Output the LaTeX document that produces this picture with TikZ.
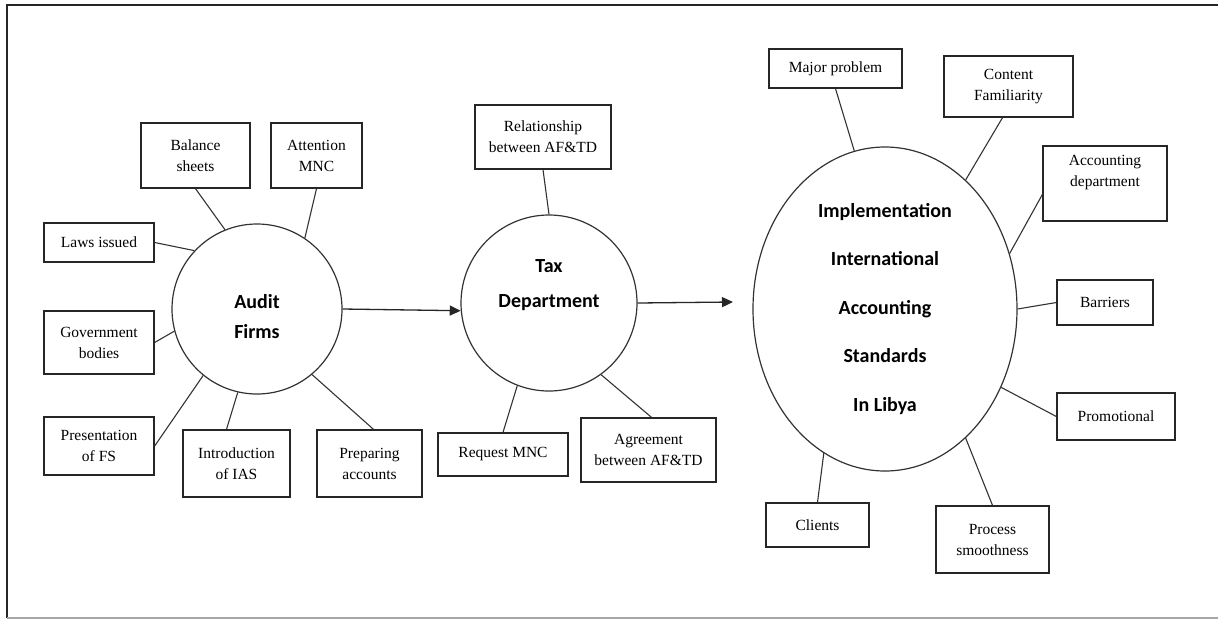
\documentclass[tikz,border=0pt]{standalone}
\usepackage{fontspec}
\setmainfont{Liberation Serif}
\newfontfamily\calibri{Carlito}
\usetikzlibrary{shapes.geometric,arrows.meta}

\begin{document}
\begin{tikzpicture}[x=1pt,y=-1pt,
    topic/.style={draw=black!85,line width=1.3pt,rectangle,align=center,inner sep=1pt,font=\fontsize{15.5}{21}\selectfont},
    hub/.style={draw=black!80,line width=1.2pt,align=center,inner sep=0pt,font=\calibri\bfseries\fontsize{20}{30}\selectfont},
    link/.style={draw=black!80,line width=1.1pt},
    flow/.style={draw=black!85,line width=1.3pt,-{Triangle[length=11pt,width=10pt]}}]
    \useasboundingbox (0,0) rectangle (1218,619);
    \draw[line width=2pt,black!85] (1218,5) -- (7,5) -- (7,618);
    \draw[line width=1.5pt,black!35] (7,618) -- (1218,618);

    \node[hub,circle,minimum size=170pt,text height=60pt] (af) at (257,309) {Audit\\Firms};
    \node[hub,circle,minimum size=176pt,font=\calibri\bfseries\fontsize{20}{35}\selectfont,text depth=39pt] (td) at (549,303) {Tax\\Department};
    \node[hub,ellipse,minimum width=264pt,minimum height=324pt,font=\calibri\bfseries\fontsize{20}{48.5}\selectfont] (ias) at (885,309) {Implementation\\International\\Accounting\\Standards\\In Libya};

    \node[topic,minimum width=109pt,minimum height=65pt] (bal) at (195.5,155.5) {Balance\\sheets};
    \node[topic,minimum width=91pt,minimum height=65pt] (att) at (316.5,155.5) {Attention\\MNC};
    \node[topic,minimum width=110pt,minimum height=39pt] (laws) at (99,242.5) {Laws issued};
    \node[topic,minimum width=110pt,minimum height=63pt] (gov) at (99,342.5) {Government\\bodies};
    \node[topic,minimum width=110pt,minimum height=58pt] (pres) at (99,446) {Presentation\\of FS};
    \node[topic,minimum width=107pt,minimum height=67pt] (intro) at (236.5,463.5) {Introduction\\of IAS};
    \node[topic,minimum width=105pt,minimum height=67pt] (prep) at (369.5,463.5) {Preparing\\accounts};

    \node[topic,minimum width=136pt,minimum height=64pt] (rel) at (543,137) {Relationship\\between AF\&TD};
    \node[topic,minimum width=130pt,minimum height=43pt] (req) at (503,454.5) {Request MNC};
    \node[topic,minimum width=135pt,minimum height=64pt] (agr) at (648.5,450) {Agreement\\between AF\&TD};

    \node[topic,minimum width=133pt,minimum height=39pt] (major) at (835.5,68.5) {Major problem};
    \node[topic,minimum width=129pt,minimum height=61pt] (cont) at (1008.5,86.5) {Content\\Familiarity};
    \node[topic,minimum width=124pt,minimum height=75pt,text depth=26pt] (accd) at (1105,183.5) {Accounting\\department};
    \node[topic,minimum width=96pt,minimum height=45pt] (barr) at (1105,302.5) {Barriers};
    \node[topic,minimum width=118pt,minimum height=47pt] (promo) at (1116,416.5) {Promotional};
    \node[topic,minimum width=113pt,minimum height=67pt] (proc) at (992.5,539.5) {Process\\smoothness};
    \node[topic,minimum width=103pt,minimum height=44pt] (cli) at (817.5,525) {Clients};

    \draw[link] (bal.south) -- (af.112);
    \draw[link] (att.south) -- (af.56);
    \draw[link] (laws.east) -- (af.137);
    \draw[link] (gov.east) -- (af.195);
    \draw[link] (pres.east) -- (af.231);
    \draw[link] ([xshift=-10pt]intro.north) -- (af.257);
    \draw[link] ([xshift=4pt]prep.north) -- (af.310);

    \draw[link] (rel.south) -- (td.90);
    \draw[link] (req.north) -- (td.249);
    \draw[link] ([xshift=3pt]agr.north) -- (td.306);

    \draw[link] (major.south) -- (ias.101);
    \draw[link] ([xshift=-6pt]cont.south) -- (ias.58);
    \draw[link] ([yshift=-11pt]accd.west) -- (ias.24);
    \draw[link] (barr.west) -- (ias.0);
    \draw[link] (promo.west) -- (ias.-34);
    \draw[link] (proc.north) -- (ias.-58);
    \draw[link] (cli.north) -- (ias.247);

    \coordinate (end) at (733,302);
    \draw[flow] (af.0) -- (td.185);
    \draw[flow] (td.0) -- (end);
\end{tikzpicture}
\end{document}
